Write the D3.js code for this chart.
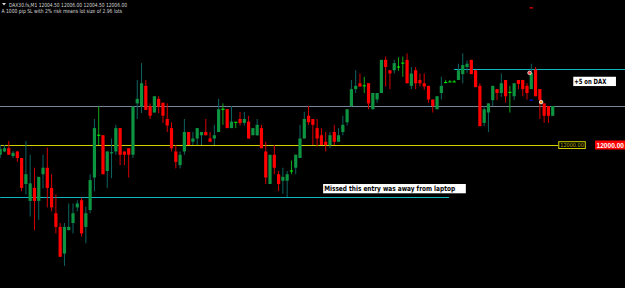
<!DOCTYPE html>
<html>
<head>
<meta charset="utf-8">
<script src="https://cdn.jsdelivr.net/npm/d3@7"></script>
<style>
html, body { margin: 0; padding: 0; background: #000; overflow: hidden; }
</style>
</head>
<body>
<div id="chart"></div>
<script>
// DAX30 M1 candles
const opens = [
  11998.5, 11999.0, 11999.5, 11998.3, 11999.0, 11998.0, 11994.0, 11991.4, 11993.4, 11991.4,
  11995.5, 11996.5, 11993.4, 11989.5, 11987.4, 11983.3, 11986.9, 11988.0, 11990.4, 11991.5,
  11987.4, 11990.0, 11995.0, 12001.5, 12001.5, 11996.0, 11998.7, 11999.0, 12002.6, 11999.0,
  11999.5, 11998.5, 12006.4, 12005.9, 12009.1, 12006.0, 12005.0, 12007.1, 12006.5, 12004.0,
  12002.6, 11999.0, 11996.9, 11999.0, 12002.0, 12000.5, 12001.0, 12001.5, 12002.0, 12001.0,
  12001.0, 12002.0, 12005.5, 12005.5, 12002.6, 12003.5, 12004.0, 12003.4, 12003.6, 12001.5,
  12001.5, 12002.6, 11999.0, 11994.0, 11998.5, 11995.5, 11994.5, 11994.5, 11996.0, 11996.5,
  11998.0, 12001.0, 12004.5, 12004.0, 12002.6, 12001.5, 12000.5, 12000.0, 12002.0, 12000.5,
  12002.0, 12003.5, 12006.0, 12008.6, 12009.5, 12009.1, 12009.5, 12005.5, 12007.0, 12008.0,
  12013.1, 12011.5, 12011.5, 12012.0, 12012.6, 12013.1, 12009.1, 12011.5, 12010.0, 12009.5,
  12009.1, 12007.0, 12005.5, 12008.0, 12009.6, 12009.7, 12009.7, 12010.0, 12010.9, 12012.0,
  12013.1, 12011.5, 12009.1, 12003.4, 12005.0, 12006.9, 12008.6, 12008.0, 12010.0, 12008.1,
  12007.5, 12010.0, 12010.0, 12009.1, 12008.6, 12011.6, 12008.6, 12006.4, 12006.0, 12004.5
];
const highs = [
  12000.0, 12000.0, 12000.6, 11999.1, 11999.1, 11998.0, 12000.6, 11998.5, 11996.5, 11995.1,
  11998.5, 11999.6, 11995.5, 11992.4, 11988.0, 11988.0, 11991.0, 11991.0, 11991.5, 11991.9,
  11990.5, 11995.5, 12004.0, 12006.0, 12001.5, 11999.1, 12001.0, 12003.1, 12002.6, 11999.0,
  11999.5, 12006.0, 12010.0, 12012.6, 12010.0, 12006.4, 12007.5, 12007.5, 12006.5, 12006.4,
  12003.5, 12000.0, 11999.0, 12004.0, 12002.0, 12002.0, 12002.6, 12002.0, 12004.0, 12002.0,
  12003.1, 12007.1, 12006.4, 12005.5, 12006.0, 12003.5, 12005.1, 12005.1, 12004.5, 12002.6,
  12004.0, 12003.1, 12000.5, 11998.5, 12000.0, 11996.0, 11996.5, 11996.0, 11997.6, 11998.5,
  12003.1, 12005.1, 12006.0, 12004.0, 12004.0, 12002.6, 12002.0, 12002.0, 12003.1, 12002.6,
  12004.5, 12005.5, 12010.0, 12011.5, 12011.0, 12010.5, 12009.5, 12008.0, 12008.0, 12013.1,
  12013.6, 12011.5, 12013.1, 12013.5, 12013.6, 12014.1, 12012.0, 12012.0, 12011.0, 12011.0,
  12009.1, 12007.0, 12007.5, 12010.5, 12010.0, 12010.0, 12010.0, 12012.5, 12014.1, 12013.0,
  12013.1, 12011.5, 12009.5, 12006.0, 12006.4, 12009.1, 12008.6, 12011.0, 12010.0, 12009.1,
  12009.5, 12010.0, 12010.0, 12009.5, 12012.5, 12012.0, 12008.6, 12006.4, 12006.0, 12006.0
];
const lows = [
  11998.0, 11998.9, 11998.5, 11998.0, 11997.4, 11992.9, 11992.4, 11989.0, 11986.9, 11988.5,
  11993.3, 11990.4, 11989.8, 11986.4, 11982.8, 11981.4, 11986.9, 11986.4, 11989.8, 11985.9,
  11984.9, 11989.5, 11992.9, 12000.0, 11995.5, 11993.4, 11994.9, 11998.5, 11996.9, 11996.9,
  11995.0, 11998.0, 12004.0, 12004.9, 12005.4, 12004.0, 12005.0, 12004.9, 12003.4, 12002.0,
  11999.0, 11996.4, 11996.4, 11998.5, 12000.0, 12000.0, 12000.0, 12000.0, 12001.5, 12000.5,
  12000.0, 12002.0, 12003.1, 12002.6, 12002.6, 12002.6, 12003.0, 12003.0, 12001.0, 12001.5,
  12001.4, 11999.5, 11994.0, 11994.0, 11995.5, 11992.9, 11992.5, 11992.0, 11995.5, 11995.5,
  11998.0, 12001.0, 12003.1, 12000.0, 11999.8, 12000.0, 11999.0, 11999.5, 12000.0, 12000.5,
  12001.5, 12003.0, 12005.9, 12008.0, 12009.0, 12008.0, 12005.5, 12005.5, 12006.5, 12008.0,
  12009.0, 12008.6, 12011.0, 12011.4, 12010.5, 12009.5, 12008.6, 12008.6, 12009.0, 12008.5,
  12006.5, 12005.0, 12005.5, 12007.0, 12009.5, 12009.7, 12009.7, 12010.0, 12009.5, 12011.1,
  12010.9, 12008.9, 12002.9, 12002.9, 12002.0, 12006.0, 12006.9, 12007.4, 12006.5, 12005.0,
  12006.9, 12008.6, 12007.5, 12007.0, 12008.6, 12007.5, 12004.0, 12003.4, 12003.4, 12004.5
];
const closes = [
  11999.4, 11999.5, 11998.5, 11998.8, 11998.0, 11993.4, 11995.5, 11994.1, 11991.4, 11995.1,
  11996.5, 11993.4, 11990.4, 11987.4, 11982.8, 11987.4, 11987.4, 11989.5, 11991.0, 11986.4,
  11989.5, 11994.6, 12002.6, 12001.5, 11995.5, 11999.0, 11998.9, 12002.6, 11998.5, 11998.5,
  11998.5, 12005.9, 12007.1, 12009.5, 12005.4, 12004.5, 12007.5, 12005.9, 12004.5, 12003.0,
  11999.5, 11997.4, 11998.5, 12002.0, 12000.0, 12001.0, 12002.6, 12002.0, 12001.5, 12000.5,
  12001.5, 12005.5, 12005.5, 12002.6, 12003.6, 12003.5, 12003.4, 12004.0, 12001.0, 12002.6,
  12003.1, 11999.5, 11995.0, 11998.5, 11996.5, 11994.0, 11995.1, 11995.5, 11996.0, 11998.5,
  12001.0, 12004.0, 12003.5, 12003.1, 12001.0, 12000.0, 12000.0, 12001.5, 12000.5, 12001.5,
  12003.1, 12005.5, 12008.6, 12009.1, 12009.0, 12009.1, 12006.4, 12008.0, 12008.0, 12013.1,
  12012.0, 12011.0, 12012.6, 12012.0, 12012.6, 12009.5, 12011.0, 12009.5, 12009.5, 12009.0,
  12007.0, 12006.0, 12007.5, 12009.1, 12009.6, 12009.7, 12009.7, 12011.5, 12012.3, 12012.5,
  12010.9, 12008.9, 12002.9, 12005.5, 12006.4, 12009.1, 12008.0, 12009.5, 12007.5, 12008.1,
  12009.5, 12009.4, 12008.6, 12008.0, 12011.1, 12007.5, 12006.9, 12004.5, 12004.5, 12006.0
];

// horizontal objects: price, first bar, last bar (null = to the right edge)
const bidPrice = 12006.00;
const levelPrices = [12000.00, 11992.0, 12011.7];
const levelFrom = [0, 0, 106];
const levelTo = [130.3, 104.8, null];
const levelColors = ["#d2d200", "#10b6c2", "#10b6c2"];

// trade arrows
const arrowBars = [123.6, 126.3];
const arrowPrices = [12011.1, 12006.6];
const arrowColors = ["#ff3030", "#ff9a20"];
const dashBars = [124, 124];
const dashPrices = [12021.1, 12006.9];
const dashColors = ["#e00000", "#0010d0"];

// text notes
const noteTexts = ["Missed this entry was away from laptop", "+5 on DAX"];
const noteBars = [75.4, 133.8];
const notePrices = [11994.0, 12010.5];

const headerLines = [
  "DAX30.fs,M1  12004.50 12006.00 12004.50 12006.00",
  "A 1000 pip SL with 2% risk means lot size of 2.96 lots"
];
const lineLabel = "12000.00";

function draw() {
    const w = 625;
    const h = 288;

    var svg = d3.select("#chart").append("svg")
        .attr("width", w)
        .attr("height", h)
        .style("display", "block")
        .style("background", "#000");

    const n = opens.length;
    const xScale = d3.scaleLinear().domain([0, n - 1]).range([0.2, 552.7]);
    const yScale = d3.scaleLinear().domain([12000, 12006]).range([145, 106]);
    const bodyW = 3.2;

    const bars = d3.range(n).map(function(i) {
        return {i: i, o: opens[i], h: highs[i], l: lows[i], c: closes[i]};
    });

    // horizontal lines under the candles
    svg.append("line")
        .attr("x1", 0).attr("x2", w)
        .attr("y1", yScale(bidPrice) + 0.5).attr("y2", yScale(bidPrice) + 0.5)
        .attr("stroke", "#74869a").attr("stroke-width", 1);

    svg.selectAll(".level")
        .data(levelPrices)
        .enter()
        .append("line")
        .attr("class", "level")
        .attr("x1", function(d, i) { return xScale(levelFrom[i]); })
        .attr("x2", function(d, i) { return levelTo[i] === null ? w : xScale(levelTo[i]); })
        .attr("y1", function(d) { return Math.round(yScale(d)) + 0.5; })
        .attr("y2", function(d) { return Math.round(yScale(d)) + 0.5; })
        .attr("stroke", function(d, i) { return levelColors[i]; })
        .attr("stroke-width", 1);

    const g = svg.append("g");

    // wicks
    g.selectAll(".wick")
        .data(bars)
        .enter()
        .append("line")
        .attr("x1", function(d) { return xScale(d.i); })
        .attr("x2", function(d) { return xScale(d.i); })
        .attr("y1", function(d) { return yScale(d.h); })
        .attr("y2", function(d) { return yScale(d.l); })
        .attr("stroke", function(d) {
            if (Math.abs(d.c - d.o) < 0.05) return "#13a81a";
            return d.c > d.o ? "#0d6462" : "#d80000";
        })
        .attr("stroke-width", 1);

    // bodies
    g.selectAll(".body")
        .data(bars.filter(function(d) { return Math.abs(d.c - d.o) >= 0.05; }))
        .enter()
        .append("rect")
        .attr("x", function(d) { return xScale(d.i) - bodyW / 2; })
        .attr("y", function(d) { return yScale(Math.max(d.o, d.c)); })
        .attr("width", bodyW)
        .attr("height", function(d) { return Math.max(1, Math.abs(yScale(d.o) - yScale(d.c))); })
        .attr("fill", function(d) { return d.c > d.o ? "#0c9440" : "#ff0000"; });

    // doji ticks
    g.selectAll(".doji")
        .data(bars.filter(function(d) { return Math.abs(d.c - d.o) < 0.05; }))
        .enter()
        .append("line")
        .attr("x1", function(d) { return xScale(d.i) - bodyW / 2; })
        .attr("x2", function(d) { return xScale(d.i) + bodyW / 2; })
        .attr("y1", function(d) { return yScale(d.o); })
        .attr("y2", function(d) { return yScale(d.o); })
        .attr("stroke", "#00ff00")
        .attr("stroke-width", 1);

    // small dashes (order levels)
    svg.selectAll(".dash")
        .data(dashPrices)
        .enter()
        .append("line")
        .attr("x1", function(d, i) { return xScale(dashBars[i]) - 1.8; })
        .attr("x2", function(d, i) { return xScale(dashBars[i]) + 1.8; })
        .attr("y1", function(d) { return yScale(d); })
        .attr("y2", function(d) { return yScale(d); })
        .attr("stroke", function(d, i) { return dashColors[i]; })
        .attr("stroke-width", 1.3);

    // trade arrows
    svg.selectAll(".arrow")
        .data(arrowPrices)
        .enter()
        .append("circle")
        .attr("cx", function(d, i) { return xScale(arrowBars[i]); })
        .attr("cy", function(d) { return yScale(d); })
        .attr("r", 1.8)
        .attr("fill", function(d, i) { return arrowColors[i]; })
        .attr("stroke", "#f4f4f4")
        .attr("stroke-width", 0.8);

    // label of the yellow line, at the line end
    const lx = xScale(levelTo[0]);
    const ly = yScale(levelPrices[0]);
    svg.append("rect")
        .attr("x", lx + 0.5).attr("y", ly - 3.3)
        .attr("width", 26.5).attr("height", 6.8)
        .attr("fill", "#000")
        .attr("stroke", levelColors[0]).attr("stroke-width", 1);
    svg.append("text")
        .attr("x", lx + 2).attr("y", ly + 2.2)
        .attr("fill", "#b8b800")
        .style("font-family", "'DejaVu Sans', sans-serif")
        .style("font-size", "5.5px")
        .attr("textLength", 23.5)
        .attr("lengthAdjust", "spacingAndGlyphs")
        .text(lineLabel);

    // price-axis tag of the same line
    svg.append("rect")
        .attr("x", 595).attr("y", ly - 4.5)
        .attr("width", 30).attr("height", 9)
        .attr("fill", "#ff0000");
    svg.append("text")
        .attr("x", 596.5).attr("y", ly + 2.8)
        .attr("fill", "#fff")
        .style("font-family", "'Liberation Sans', Arial, sans-serif")
        .style("font-weight", "bold")
        .style("font-size", "7.2px")
        .attr("textLength", 27.5)
        .attr("lengthAdjust", "spacingAndGlyphs")
        .text(lineLabel);

    // notes
    const noteW = [142.7, 42.7];
    const noteLen = [131, 32];
    svg.selectAll(".note-box")
        .data(noteTexts)
        .enter()
        .append("rect")
        .attr("x", function(d, i) { return xScale(noteBars[i]); })
        .attr("y", function(d, i) { return yScale(notePrices[i]); })
        .attr("width", function(d, i) { return noteW[i]; })
        .attr("height", 9.3)
        .attr("fill", "#fff");
    svg.selectAll(".note-text")
        .data(noteTexts)
        .enter()
        .append("text")
        .attr("x", function(d, i) { return xScale(noteBars[i]) + 1; })
        .attr("y", function(d, i) { return yScale(notePrices[i]) + 7; })
        .attr("fill", "#000")
        .style("font-family", "'DejaVu Sans', sans-serif")
        .style("font-weight", "bold")
        .style("font-size", "7.2px")
        .attr("textLength", function(d, i) { return noteLen[i]; })
        .attr("lengthAdjust", "spacingAndGlyphs")
        .text(function(d) { return d; });

    // header in the top-left corner
    svg.append("path")
        .attr("d", "M2,3 L6,3 L4,5.5 Z")
        .attr("fill", "#d8d8d8");
    svg.selectAll(".head")
        .data(headerLines)
        .enter()
        .append("text")
        .attr("x", function(d, i) { return i === 0 ? 9 : 1.5; })
        .attr("y", function(d, i) { return 6.5 + i * 6; })
        .attr("fill", "#d8d8d8")
        .style("font-family", "'DejaVu Sans', sans-serif")
        .style("font-size", "5.6px")
        .attr("textLength", function(d, i) { return i === 0 ? 118 : 120.5; })
        .attr("lengthAdjust", "spacingAndGlyphs")
        .text(function(d) { return d; });
}

draw();
</script>
</body>
</html>
